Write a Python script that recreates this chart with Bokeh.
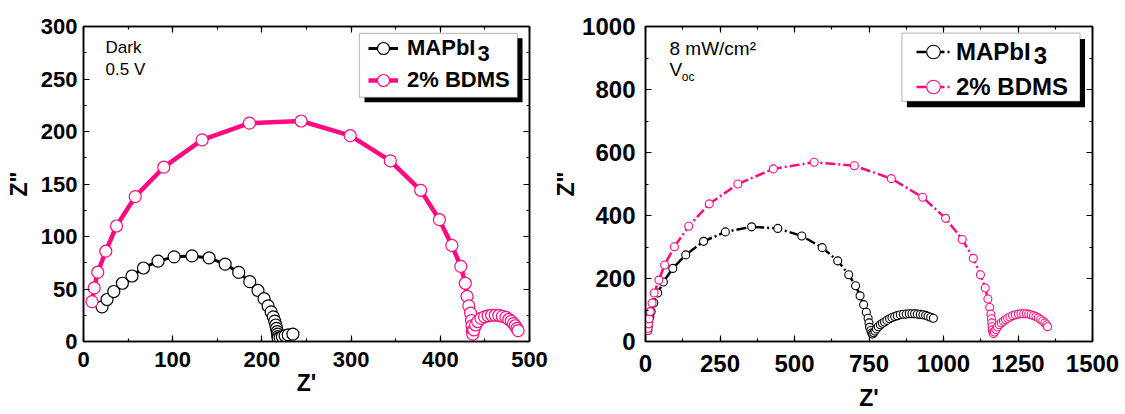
from bokeh.plotting import figure
from bokeh.layouts import row
from bokeh.models import (LinearAxis, SingleIntervalTicker, Range1d, BoxAnnotation,
                          Label, Legend, LegendItem)
from bokeh.embed import file_html
from bokeh.resources import INLINE

# ---------------- data ----------------
# Left panel: Dark, 0.5 V
dark_mapbi3_x = [20.8, 26.4, 34, 43.6, 54.4, 67.2, 83.6, 101.6, 121.6, 140.8, 158.8, 174,
                 186.4, 195.6, 202.4, 207, 210.4, 212.8, 214.4, 215.6, 216.4, 217.2, 217.6,
                 218, 218.3, 220.5, 223, 226, 229.5, 234.8]
dark_mapbi3_y = [33, 40, 47.6, 55.5, 62.4, 70, 76.5, 80.6, 81.5, 79.6, 73.7, 65.8,
                 57, 48.6, 40.8, 33.9, 28.2, 23.5, 19.4, 15.7, 12.5, 9.4, 7,
                 4.7, 3, 3.5, 4.5, 5.5, 6.3, 7]
dark_bdms_x = [9.6, 12, 16, 25, 37, 58, 90, 133, 186, 244, 299, 344, 378, 399, 413, 423,
               428, 430, 432, 434, 435, 435.6, 436, 436.4,
               437.6, 439.6, 442, 445.6, 449.6, 453.6, 457.6, 461.6, 465.6, 469.6, 473.6,
               476.8, 479.6, 482, 484, 486, 487.2]
dark_bdms_y = [38, 51, 66, 86, 110, 138, 166, 192, 208, 210, 196, 172, 144, 116, 91.5, 71.5,
               55.5, 43, 34, 27, 20, 15, 9.5, 7,
               11, 15.7, 19, 22, 23.5, 24.5, 25, 25, 24.8, 24, 23,
               21, 19.4, 17, 15, 12.5, 10.3]

# Right panel: 8 mW/cm2, Voc
light_mapbi3_x = [8, 9, 11, 14.5, 19, 28, 41, 60, 91.5, 135, 195, 268, 356, 444, 524.5, 593,
                  645, 682, 705, 720, 732, 741, 747, 750, 752, 756, 759, 762, 766, 770, 775,
                  781, 788, 795, 802, 810, 819, 827, 836, 845, 855, 865, 875, 885, 894, 903,
                  912, 922, 931, 940, 948, 957, 966]
light_mapbi3_y = [35, 47, 61, 77, 95, 122, 154, 189, 232, 275, 318, 348, 364, 359, 335, 298,
                  256, 212, 177, 145, 117, 93, 74, 59, 45, 35, 27, 24, 28, 33, 40,
                  47, 53, 58, 62, 67, 72, 76, 79, 82, 85, 86.5, 87, 88, 88, 88,
                  87, 86, 85, 83, 80, 77, 74]
light_bdms_x = [7, 8, 10, 12, 16, 22, 29, 45, 64, 97, 145, 214, 310, 429, 566, 701, 825, 930,
                1007, 1063, 1100, 1124, 1140, 1149, 1155, 1159, 1161, 1162, 1163, 1164, 1166,
                1168, 1171, 1176, 1181, 1187, 1194, 1201, 1208, 1215, 1223, 1232, 1241, 1251,
                1260, 1269, 1278, 1286, 1294, 1302, 1310, 1318, 1326, 1333, 1340, 1346, 1349]
light_bdms_y = [35, 42, 56, 72, 95, 122, 154, 195, 243, 301, 366, 437, 500, 548, 569, 558, 517,
                458, 391, 324, 264, 212, 170, 135, 108, 87, 72, 59, 47, 37, 29,
                25, 30, 38, 46, 53, 59, 64, 69, 74, 78, 82, 85, 87,
                88, 88, 88, 87, 85, 82, 79, 75, 70, 65, 59, 53, 47]

series_names = ["MAPbI", "2% BDMS"]
left_ticks = dict(x_interval=100, y_interval=50)
right_ticks = dict(x_interval=250, y_interval=200)

PINK = "#FF0A80"
FONT = "Liberation Sans"


def style_axes(p, x_int, y_int, tick_font, label_font, xstand, ystand, xlab_stand, ylab_stand):
    xt = SingleIntervalTicker(interval=x_int, num_minor_ticks=2)
    yt = SingleIntervalTicker(interval=y_int, num_minor_ticks=2)
    p.xaxis.ticker = xt
    p.yaxis.ticker = yt
    for ax in (p.xaxis[0], p.yaxis[0]):
        ax.major_tick_in = 6
        ax.major_tick_out = 0
        ax.minor_tick_in = 3
        ax.minor_tick_out = 0
        ax.axis_line_width = 1.5
        ax.major_tick_line_width = 1.2
        ax.minor_tick_line_width = 1.2
        ax.major_label_text_font = FONT
        ax.major_label_text_font_style = "bold"
        ax.major_label_text_font_size = tick_font
        ax.major_label_text_color = "black"
        ax.axis_label_text_font = FONT
        ax.axis_label_text_font_style = "bold"
        ax.axis_label_text_font_size = label_font
        ax.axis_label_text_color = "black"
    p.xaxis.major_label_standoff = xstand
    p.yaxis.major_label_standoff = ystand
    p.xaxis.axis_label_standoff = xlab_stand
    p.yaxis.axis_label_standoff = ylab_stand
    # mirrored axes (ticks only, labels not drawn)
    for loc, tk in (("above", xt), ("right", yt)):
        ax = LinearAxis(ticker=SingleIntervalTicker(interval=tk.interval, num_minor_ticks=2))
        ax.major_tick_in = 6
        ax.major_tick_out = 0
        ax.minor_tick_in = 3
        ax.minor_tick_out = 0
        ax.axis_line_width = 1.5
        ax.major_tick_line_width = 1.2
        ax.minor_tick_line_width = 1.2
        ax.major_label_text_font_size = "2px"
        ax.major_label_text_color = None
        ax.major_label_text_alpha = 0
        ax.major_label_standoff = 0
        p.add_layout(ax, loc)
    p.xgrid.visible = False
    p.ygrid.visible = False
    p.outline_line_color = "black"
    p.outline_line_width = 1.5


# ---------------- left panel ----------------
p1 = figure(width=550, height=414, output_backend="svg", toolbar_location=None,
            x_range=Range1d(0, 500), y_range=Range1d(0, 300),
            min_border_left=83, min_border_right=21, min_border_top=21, min_border_bottom=73,
            background_fill_color="white", border_fill_color="white")
p1.xaxis.axis_label = "Z'"
p1.yaxis.axis_label = 'Z"'
style_axes(p1, left_ticks["x_interval"], left_ticks["y_interval"], "22px", "23px", 10, 6, 0, 6)

lb = p1.line(dark_mapbi3_x, dark_mapbi3_y, line_color="black", line_width=3)
sb = p1.scatter(dark_mapbi3_x, dark_mapbi3_y, marker="circle", size=12,
                line_color="black", fill_color="white", line_width=1.2)
lp = p1.line(dark_bdms_x, dark_bdms_y, line_color=PINK, line_width=4.5)
sp = p1.scatter(dark_bdms_x, dark_bdms_y, marker="circle", size=12,
                line_color=PINK, fill_color="white", line_width=1.2)

p1.add_layout(BoxAnnotation(left=315.0, right=492.2, top=288.75, bottom=227.8,
                            fill_color="black", fill_alpha=1, line_alpha=0))
p1.add_layout(BoxAnnotation(left=309.4, right=486.5, top=293.4, bottom=232.5,
                            fill_color="white", fill_alpha=1, line_color="#333333",
                            line_width=1.2))
leg1 = Legend(items=[LegendItem(label=series_names[0], renderers=[lb, sb]),
                     LegendItem(label=series_names[1], renderers=[lp, sp])],
              location=(285, 245), padding=0, margin=0, spacing=0,
              glyph_width=30, glyph_height=32, label_height=32, label_standoff=9,
              border_line_alpha=0, background_fill_alpha=0,
              label_text_font=FONT, label_text_font_style="bold",
              label_text_font_size="22px", label_text_color="black")
p1.add_layout(leg1, "center")
p1.add_layout(Label(x=441.7, y=274.5, text="3", text_font=FONT, text_font_style="bold",
                    text_font_size="22px", text_baseline="alphabetic", text_color="black"))
p1.add_layout(Label(x=24.7, y=280.3, text="Dark", text_font=FONT, text_font_size="17px",
                    text_baseline="alphabetic", text_color="black"))
p1.add_layout(Label(x=24.7, y=259.5, text="0.5 V", text_font=FONT, text_font_size="17px",
                    text_baseline="alphabetic", text_color="black"))

# ---------------- right panel ----------------
p2 = figure(width=575, height=414, output_backend="svg", toolbar_location=None,
            x_range=Range1d(0, 1500), y_range=Range1d(0, 1000),
            min_border_left=94, min_border_right=33, min_border_top=26, min_border_bottom=71,
            background_fill_color="white", border_fill_color="white")
p2.xaxis.axis_label = "Z'"
p2.yaxis.axis_label = 'Z"'
style_axes(p2, right_ticks["x_interval"], right_ticks["y_interval"], "24px", "23px", 13, 10, 10, 0)

DASH = "10 3 2 3"
lb2 = p2.line(light_mapbi3_x, light_mapbi3_y, line_color="black", line_width=2.5, line_dash=DASH)
sb2 = p2.scatter(light_mapbi3_x, light_mapbi3_y, marker="circle", size=8,
                 line_color="black", fill_color="white", line_width=1.1)
lp2 = p2.line(light_bdms_x, light_bdms_y, line_color=PINK, line_width=2.5, line_dash=DASH)
sp2 = p2.scatter(light_bdms_x, light_bdms_y, marker="circle", size=8,
                 line_color=PINK, fill_color="white", line_width=1.1)

p2.add_layout(BoxAnnotation(left=877.2, right=1474.9, top=960, bottom=743.5,
                            fill_color="black", fill_alpha=1, line_alpha=0))
p2.add_layout(BoxAnnotation(left=860.5, right=1458.1, top=978.9, bottom=762.5,
                            fill_color="white", fill_alpha=1, line_color="#333333",
                            line_width=1.2))
leg2 = Legend(items=[LegendItem(label=series_names[0], renderers=[lb2, sb2]),
                     LegendItem(label=series_names[1], renderers=[lp2, sp2])],
              location=(271, 237), padding=0, margin=0, spacing=0,
              glyph_width=34, glyph_height=35, label_height=35, label_standoff=6,
              border_line_alpha=0, background_fill_alpha=0,
              label_text_font=FONT, label_text_font_style="bold",
              label_text_font_size="24px", label_text_color="black")
p2.add_layout(leg2, "center")
p2.add_layout(Label(x=1302.5, y=908.5, text="3", text_font=FONT, text_font_style="bold",
                    text_font_size="24px", text_baseline="alphabetic", text_color="black"))
p2.add_layout(Label(x=80.4, y=930.6, text="8 mW/cm\u00b2", text_font=FONT, text_font_size="19px",
                    text_baseline="alphabetic", text_color="black"))
p2.add_layout(Label(x=80.4, y=864.2, text="V", text_font=FONT, text_font_size="19px",
                    text_baseline="alphabetic", text_color="black"))
p2.add_layout(Label(x=122, y=838.8, text="oc", text_font=FONT, text_font_size="12px",
                    text_baseline="alphabetic", text_color="black"))

layout = row(p1, p2)
open("out.html", "w").write(file_html(layout, INLINE))
